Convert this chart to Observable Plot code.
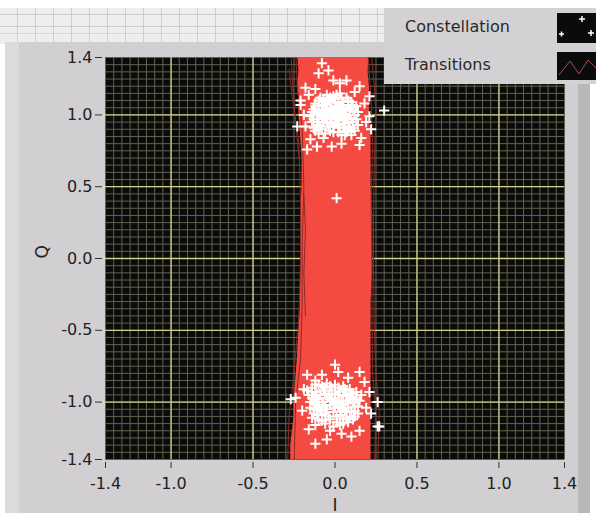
<!DOCTYPE html>
<html>
<head>
<meta charset="utf-8">
<script src="https://cdn.jsdelivr.net/npm/d3@7"></script>
<script src="https://cdn.jsdelivr.net/npm/@observablehq/plot@0.6"></script>
<style>
  html, body { margin: 0; padding: 0; background: #ffffff; }
  #wrap { position: relative; width: 596px; height: 521px; overflow: hidden; font-family: "DejaVu Sans", sans-serif; }
  #topgrid { position: absolute; left: 0; top: 8px; width: 596px; height: 36px;
    background-color: #eeedef;
    background-image:
      repeating-linear-gradient(90deg, transparent 0 17px, #cfcdd0 17px 18px),
      linear-gradient(180deg, transparent 0 6px, #cfcdd0 6px 7px, transparent 7px 18px, #cfcdd0 18px 19px, transparent 19px 25px, #d6d4d7 25px 26px, transparent 26px); }
  #panel { position: absolute; left: 5px; top: 42px; width: 585px; height: 471px; background: #d1cfd2; }
  #leftstrip { position: absolute; left: 5px; top: 42px; width: 14px; height: 471px; background: #dcdadd; }
  #rightstrip { position: absolute; left: 578px; top: 42px; width: 12px; height: 471px; background: #b9b7ba; }
  #chart { position: absolute; left: 0; top: 0; }
  #chart svg { background: transparent !important; }
  #legend { position: absolute; left: 384px; top: 8px; width: 212px; height: 76px; background: #d3d1d4; }
  .lg { position: absolute; left: 21px; font-size: 16px; color: #2a2a2a; }
</style>
</head>
<body>
<div id="wrap">
  <div id="topgrid"></div>
  <div id="panel"></div>
  <div id="leftstrip"></div>
  <div id="rightstrip"></div>
  <div id="chart"></div>
  <div id="legend">
    <div class="lg" style="top:9px">Constellation</div>
    <div class="lg" style="top:47px">Transitions</div>
    <svg style="position:absolute; left:173px; top:5px" width="39" height="30">
      <rect width="39" height="30" fill="#0b0b0b"/>
      <path d="M22 6h6M25 3v6M2 21h5M4.5 18.5v5M31 20h6M34 17v6" stroke="#ffffff" stroke-width="1.5"/>
    </svg>
    <svg style="position:absolute; left:173px; top:44px" width="39" height="28">
      <rect width="39" height="28" fill="#0b0b0b"/>
      <path d="M2 23 L13 9 L22 22 L31 8 L39 16" fill="none" stroke="#a0504a" stroke-width="1"/>
    </svg>
  </div>
</div>
<script>
// ---- data ----
const xTicks = [-1.4, -1.0, -0.5, 0.0, 0.5, 1.0, 1.4];
const yTicks = [-1.4, -1.0, -0.5, 0.0, 0.5, 1.0, 1.4];
const majorGrid = [-1.0, -0.5, 0.0, 0.5, 1.0];

// dense transition band (Q, left I edge, right I edge)
const bandQ     = [1.45, 1.3, 1.2, 1.1, 1.0, 0.85, 0.7, 0.5, 0.3, 0.1, -0.1, -0.3, -0.5, -0.7, -0.85, -1.0, -1.1, -1.2, -1.3, -1.45];
const bandLeft  = [-0.23, -0.22, -0.23, -0.22, -0.22, -0.21, -0.20, -0.20, -0.21, -0.21, -0.21, -0.21, -0.22, -0.23, -0.24, -0.25, -0.25, -0.26, -0.27, -0.27];
const bandRight = [0.21, 0.20, 0.21, 0.21, 0.21, 0.22, 0.22, 0.22, 0.23, 0.23, 0.23, 0.22, 0.22, 0.22, 0.22, 0.22, 0.22, 0.22, 0.22, 0.22];

// individual transition traces at the band edges [I, Q]
const traceA = [[-0.27,1.45],[-0.26,1.25],[-0.25,1.05],[-0.22,0.8],[-0.21,0.4],[-0.21,0.0],[-0.22,-0.4],[-0.25,-0.8],[-0.28,-1.1],[-0.29,-1.45]];
const traceB = [[-0.24,1.45],[-0.23,1.2],[-0.20,0.9],[-0.19,0.5],[-0.20,0.1],[-0.20,-0.3],[-0.21,-0.7],[-0.24,-1.0],[-0.25,-1.45]];
const traceC = [[0.22,1.45],[0.24,1.2],[0.25,1.0],[0.24,0.7],[0.235,0.3],[0.235,-0.1],[0.24,-0.5],[0.25,-0.8],[0.27,-1.05],[0.26,-1.45]];
const traceD = [[0.20,1.45],[0.22,1.1],[0.23,0.8],[0.22,0.4],[0.225,0.0],[0.225,-0.4],[0.23,-0.8],[0.25,-1.1],[0.24,-1.45]];
const traceE = [[-0.28,1.32],[-0.26,1.12],[-0.24,0.96],[-0.22,0.7]];
const traceF = [[-0.19,0.45],[-0.18,0.2],[-0.19,-0.1],[-0.18,-0.4]];

// constellation samples [I, Q]
const upperCluster = [
  [-0.12,1.08],[-0.09,1.12],[-0.05,1.14],[-0.01,1.13],[0.03,1.15],[0.07,1.12],[0.10,1.09],[0.13,1.06],
  [-0.14,1.02],[-0.10,1.04],[-0.06,1.07],[-0.02,1.09],[0.02,1.08],[0.05,1.05],[0.09,1.03],[0.12,1.00],
  [-0.13,0.97],[-0.08,0.99],[-0.04,1.02],[0.00,1.04],[0.04,1.01],[0.08,0.98],[0.11,0.95],[0.14,0.93],
  [-0.11,0.93],[-0.07,0.95],[-0.03,0.97],[0.01,0.99],[0.05,0.96],[0.09,0.92],[0.12,0.89],
  [-0.12,0.89],[-0.08,0.90],[-0.04,0.92],[0.00,0.94],[0.03,0.91],[0.07,0.88],[-0.06,0.87],[-0.01,0.88],[0.04,0.86],
  [-0.09,1.00],[-0.05,1.01],[-0.01,1.01],[0.02,1.02],[0.06,1.00],[-0.03,1.05],[0.01,1.06],[-0.07,1.03],[0.05,1.09],[-0.11,1.01],
  [-0.02,0.95],[0.02,0.97],[0.06,0.94],[-0.05,0.97],[0.10,1.05],[-0.08,1.06],[0.08,1.07],[-0.13,1.04],[0.00,1.11],[-0.04,1.10],
  [-0.10,1.10],[-0.07,1.11],[-0.03,1.12],[0.01,1.14],[0.04,1.12],[0.08,1.10],[0.11,1.07],
  [-0.12,1.06],[-0.05,1.05],[0.03,1.06],[0.07,1.04],[0.11,1.03],
  [-0.10,0.97],[-0.06,0.99],[-0.02,1.00],[0.03,0.99],[0.07,0.97],[0.10,0.97],[0.13,0.97],
  [-0.09,0.92],[-0.05,0.94],[-0.01,0.92],[0.02,0.93],[0.05,0.91],[0.08,0.90],[0.11,0.91],
  [-0.10,0.87],[-0.03,0.89],[0.02,0.88],[0.06,0.86],
  [-0.14,0.95],[-0.15,0.99],[0.14,1.02],[-0.07,0.98],[0.00,0.97],[0.04,1.04],[-0.02,1.03],[-0.06,1.09],[0.09,1.00],[-0.13,0.91],
  [-0.08,1.36],[-0.04,1.31],[-0.10,1.29],[-0.01,1.24],[0.07,1.24],[0.03,1.22],[-0.18,1.19],[0.15,1.20],[-0.21,1.10],[0.21,1.13],
  [0.30,1.03],[-0.23,0.92],[-0.18,0.92],[0.21,0.99],[0.22,0.90],[-0.17,0.76],[-0.11,0.78],[-0.02,0.78],[0.04,0.80],[0.15,0.79],
  [-0.07,0.84],[0.10,0.86],[-0.21,1.07],[0.18,1.08],[-0.16,1.14],[0.16,0.84],[-0.15,0.83],[0.12,1.16],[-0.12,1.18],[0.19,0.95],
  [-0.19,1.00],[0.01,0.42]
];
const lowerCluster = [
  [-0.14,-0.90],[-0.10,-0.88],[-0.05,-0.87],[0.00,-0.88],[0.05,-0.89],[0.09,-0.91],[0.13,-0.93],
  [-0.16,-0.95],[-0.12,-0.93],[-0.07,-0.92],[-0.02,-0.92],[0.03,-0.93],[0.07,-0.95],[0.11,-0.97],[0.15,-0.99],
  [-0.15,-1.00],[-0.10,-0.98],[-0.05,-0.97],[0.00,-0.97],[0.04,-0.99],[0.08,-1.01],[0.12,-1.03],
  [-0.13,-1.05],[-0.08,-1.03],[-0.03,-1.02],[0.02,-1.03],[0.06,-1.05],[0.10,-1.07],[0.14,-1.08],
  [-0.11,-1.09],[-0.06,-1.08],[-0.01,-1.07],[0.03,-1.09],[0.07,-1.11],[0.11,-1.12],
  [-0.08,-1.13],[-0.03,-1.12],[0.01,-1.14],[0.05,-1.15],[-0.12,-1.16],
  [-0.09,-0.95],[-0.04,-0.95],[0.01,-1.00],[0.05,-1.02],[-0.07,-1.00],[-0.02,-0.99],[0.02,-0.95],[0.09,-0.98],[-0.11,-1.02],[0.04,-1.06],
  [-0.05,-1.05],[0.00,-1.04],[0.08,-1.04],[-0.09,-1.06],[0.12,-1.10],[-0.14,-1.11],[0.10,-0.94],[-0.13,-0.97],[0.06,-0.91],[-0.06,-0.90],
  [-0.12,-0.88],[-0.08,-0.89],[-0.03,-0.89],[0.02,-0.90],[0.07,-0.92],[0.11,-0.94],
  [-0.14,-0.97],[-0.11,-0.95],[-0.06,-0.94],[0.00,-0.94],[0.05,-0.96],[0.09,-0.96],[0.13,-0.98],
  [-0.12,-1.01],[-0.08,-1.00],[-0.03,-0.98],[0.03,-1.01],[0.07,-0.99],[0.11,-1.00],[0.14,-1.03],
  [-0.15,-1.04],[-0.10,-1.04],[-0.06,-1.03],[-0.01,-1.02],[0.03,-1.04],[0.07,-1.07],[0.12,-1.06],
  [-0.13,-1.08],[-0.08,-1.09],[-0.04,-1.10],[0.01,-1.10],[0.05,-1.12],[0.09,-1.10],
  [-0.10,-1.12],[-0.06,-1.15],[-0.01,-1.17],[0.03,-1.16],[0.08,-1.14],[-0.17,-0.92],[0.16,-0.95],
  [0.00,-0.74],[0.15,-0.79],[-0.17,-0.81],[-0.27,-0.98],[0.26,-1.00],[0.21,-0.93],[0.26,-1.17],[-0.12,-1.29],[-0.03,-1.20],[0.04,-1.22],
  [0.15,-1.20],[-0.08,-0.81],[0.02,-0.79],[-0.24,-0.97],[0.27,-1.17],[-0.20,-1.06],[0.19,-1.04],[-0.19,-0.91],[0.18,-0.86],[-0.16,-1.19],
  [0.10,-1.24],[-0.05,-1.26],[0.08,-0.83],[-0.12,-0.85],[0.22,-1.08]
];

// ---- build tables ----
const band = bandQ.map((q, i) => ({q, left: bandLeft[i], right: bandRight[i]}));
const traces = [];
[traceA, traceB, traceC, traceD, traceE, traceF].forEach((t, k) =>
  t.forEach(([i, q]) => traces.push({id: k, i, q})));
const points = upperCluster.concat(lowerCluster).map(([i, q]) => ({i, q}));
const minorGrid = d3.range(-28, 29).map(k => k / 20);
const fmt = d => d.toFixed(1);

const chart = Plot.plot({
  width: 596,
  height: 521,
  marginLeft: 105,
  marginRight: 32,
  marginTop: 57,
  marginBottom: 62,
  style: {fontFamily: "DejaVu Sans, sans-serif", background: "transparent", color: "#222"},
  x: {domain: [-1.4, 1.4], axis: null},
  y: {domain: [-1.4, 1.4], axis: null},
  marks: [
    Plot.frame({fill: "#0b0c09", stroke: null}),
    Plot.gridX(minorGrid, {stroke: "#626253", strokeOpacity: 1, strokeWidth: 1}),
    Plot.gridY(minorGrid, {stroke: "#626253", strokeOpacity: 1, strokeWidth: 1}),
    Plot.gridX(majorGrid, {stroke: "#cfcf8c", strokeOpacity: 1, strokeWidth: 1.3}),
    Plot.gridY(majorGrid, {stroke: "#cfcf8c", strokeOpacity: 1, strokeWidth: 1.3}),
    Plot.areaX(band, {y: "q", x1: "left", x2: "right", fill: "#f44a42", curve: "linear", clip: true}),
    Plot.line(traces, {x: "i", y: "q", z: "id", stroke: "#8c2b25", strokeWidth: 1, clip: true}),
    Plot.dot(points, {x: "i", y: "q", symbol: "plus", stroke: "#ffffff", r: 3.4, strokeWidth: 2, clip: true}),
    Plot.axisX(xTicks, {tickFormat: fmt, tickSize: 6, dy: 3, tickPadding: 9, fontSize: 16, stroke: "#333", label: null}),
    Plot.axisY(yTicks, {tickFormat: fmt, tickSize: 7, dx: -3, tickPadding: 3, fontSize: 16, stroke: "#333", label: null}),
    Plot.text(["I"], {frameAnchor: "bottom", dy: 51, fontSize: 17, fill: "#222"}),
    Plot.text(["Q"], {frameAnchor: "left", dx: -63, rotate: -90, fontSize: 17, fill: "#222"})
  ]
});
document.getElementById("chart").appendChild(chart);
</script>
</body>
</html>
